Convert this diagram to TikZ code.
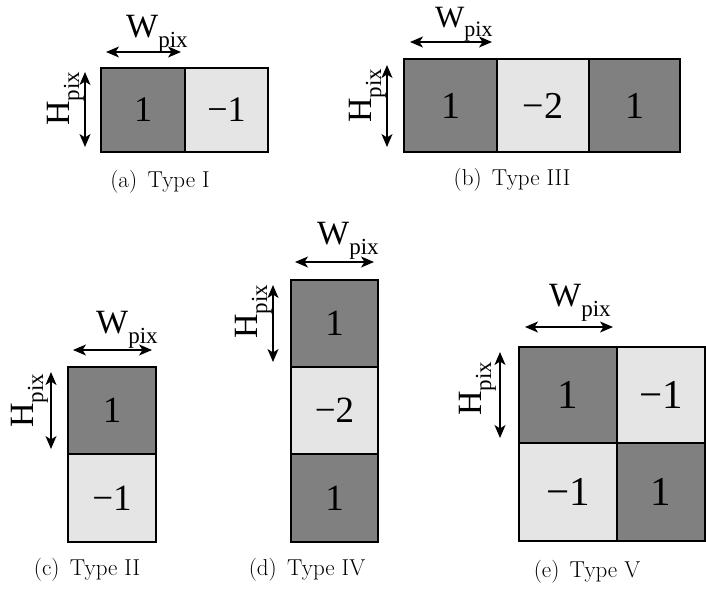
\documentclass[tikz,border=0pt]{standalone}
\usepackage{fontspec}
\newfontfamily\tim{Liberation Serif}
\usetikzlibrary{arrows.meta}
\definecolor{darkc}{gray}{0.5}
\definecolor{lightc}{gray}{0.9}
\newcommand{\Wlab}{{\tim\fontsize{34}{34}\selectfont W}\raisebox{-10pt}{\tim\fontsize{23}{23}\selectfont pix}}
\newcommand{\Wlabsmall}{{\tim\fontsize{31}{31}\selectfont W}\raisebox{-9pt}{\tim\fontsize{22}{22}\selectfont pix}}
\newcommand{\Hlab}{{\tim\fontsize{34}{34}\selectfont H}\raisebox{-10pt}{\tim\fontsize{23}{23}\selectfont pix}}
\tikzset{
  cellbase/.style={draw=black, line width=1.2pt, inner sep=0pt},
  dcell/.style={cellbase, fill=darkc},
  lcell/.style={cellbase, fill=lightc},
  dimarrow/.style={line width=1.3pt, {Stealth[length=13pt,width=11pt,inset=3.5pt]}-{Stealth[length=13pt,width=11pt,inset=3.5pt]}},
  wlabel/.style={anchor=base west, inner sep=0pt},
  hlabel/.style={anchor=base west, inner sep=0pt, rotate=90},
  captionlab/.style={inner sep=0pt, font=\fontsize{23}{23}\selectfont}
}
\begin{document}
\begin{tikzpicture}[x=1pt, y=-1pt]
\useasboundingbox[fill=white] (0,0) rectangle (706,590);

% ---------- Type I ----------
\node[dcell, minimum width=84pt, minimum height=84pt, font=\tim\fontsize{36}{36}\selectfont] (a1) at (143,110) {1};
\node[lcell, minimum width=83pt, minimum height=84pt, font=\tim\fontsize{36}{36}\selectfont] (a2) at (226.5,110) {−1};
\coordinate (aWl) at (106,52); \coordinate (aWr) at (181,52);
\draw[dimarrow] (aWl) -- (aWr);
\node[wlabel] (aW) at (126,37) {\Wlab};
\coordinate (aHt) at (85,72); \coordinate (aHb) at (85,147);
\draw[dimarrow] (aHt) -- (aHb);
\node[hlabel] (aH) at (69,126) {\Hlab};
\node[captionlab] (capa) at (160,182) {(a)\hspace{0.45em}Type I};

% ---------- Type III ----------
\node[dcell, minimum width=93pt, minimum height=93pt, font=\tim\fontsize{38}{38}\selectfont] (b1) at (450.5,105.5) {1};
\node[lcell, minimum width=92pt, minimum height=93pt, font=\tim\fontsize{38}{38}\selectfont] (b2) at (543,105.5) {−2};
\node[dcell, minimum width=91pt, minimum height=93pt, font=\tim\fontsize{38}{38}\selectfont] (b3) at (634.5,105.5) {1};
\coordinate (bWl) at (410,42); \coordinate (bWr) at (492,42);
\draw[dimarrow] (bWl) -- (bWr);
\node[wlabel] (bW) at (435,27) {\Wlabsmall};
\coordinate (bHt) at (387,65); \coordinate (bHb) at (387,147);
\draw[dimarrow] (bHt) -- (bHb);
\node[hlabel] (bH) at (371,123) {\Hlab};
\node[captionlab] (capb) at (512,180) {(b)\hspace{0.45em}Type III};

% ---------- Type II ----------
\node[dcell, minimum width=88pt, minimum height=87pt, font=\tim\fontsize{37}{37}\selectfont] (c1) at (112,410.5) {1};
\node[lcell, minimum width=88pt, minimum height=88pt, font=\tim\fontsize{37}{37}\selectfont] (c2) at (112,498) {−1};
\coordinate (cWl) at (73,350); \coordinate (cWr) at (152,350);
\draw[dimarrow] (cWl) -- (cWr);
\node[wlabel] (cW) at (96,333) {\Wlab};
\coordinate (cHt) at (51,372); \coordinate (cHb) at (51,449);
\draw[dimarrow] (cHt) -- (cHb);
\node[hlabel] (cH) at (33,428) {\Hlab};
\node[captionlab] (capc) at (87,570) {(c)\hspace{0.45em}Type II};

% ---------- Type IV ----------
\node[dcell, minimum width=87pt, minimum height=87pt, font=\tim\fontsize{37}{37}\selectfont] (d1) at (334.5,323.5) {1};
\node[lcell, minimum width=87pt, minimum height=87pt, font=\tim\fontsize{37}{37}\selectfont] (d2) at (334.5,410.5) {−2};
\node[dcell, minimum width=87pt, minimum height=88pt, font=\tim\fontsize{37}{37}\selectfont] (d3) at (334.5,498) {1};
\coordinate (dWl) at (295,262); \coordinate (dWr) at (374,262);
\draw[dimarrow] (dWl) -- (dWr);
\node[wlabel] (dW) at (317,244) {\Wlab};
\coordinate (dHt) at (273,285); \coordinate (dHb) at (273,362);
\draw[dimarrow] (dHt) -- (dHb);
\node[hlabel] (dH) at (257,339) {\Hlab};
\node[captionlab] (capd) at (307,570) {(d)\hspace{0.45em}Type IV};

% ---------- Type V ----------
\node[dcell, minimum width=98pt, minimum height=96pt, font=\tim\fontsize{41}{41}\selectfont] (e1) at (568,395) {1};
\node[lcell, minimum width=88pt, minimum height=96pt, font=\tim\fontsize{41}{41}\selectfont] (e2) at (661,395) {−1};
\node[lcell, minimum width=98pt, minimum height=98pt, font=\tim\fontsize{41}{41}\selectfont] (e3) at (568,492) {−1};
\node[dcell, minimum width=88pt, minimum height=98pt, font=\tim\fontsize{41}{41}\selectfont] (e4) at (661,492) {1};
\coordinate (eWl) at (525,327); \coordinate (eWr) at (613,327);
\draw[dimarrow] (eWl) -- (eWr);
\node[wlabel] (eW) at (549,306) {\Wlab};
\coordinate (eHt) at (500,352); \coordinate (eHb) at (500,438);
\draw[dimarrow] (eHt) -- (eHb);
\node[hlabel] (eH) at (481,416) {\Hlab};
\node[captionlab] (cape) at (587,572) {(e)\hspace{0.45em}Type V};
\end{tikzpicture}
\end{document}
